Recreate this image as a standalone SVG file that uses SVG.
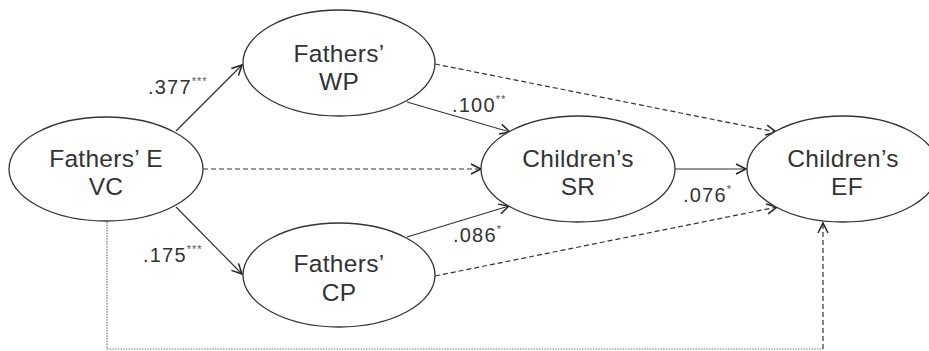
<svg xmlns="http://www.w3.org/2000/svg" width="929" height="351" viewBox="0 0 929 351">
<style>
.node ellipse{fill:#fff;stroke:#333;stroke-width:1.3}
.lbl{font-family:"Liberation Sans",Arial,sans-serif;font-size:24.5px;fill:#333;text-anchor:middle;letter-spacing:0.3px}
.num{font-family:"Liberation Sans",Arial,sans-serif;font-size:20px;fill:#333;letter-spacing:1.2px}
.sup{font-size:11px;letter-spacing:1px;fill:#555}
.c{fill:none;stroke:#333;stroke-width:1.2}
.dash{stroke-dasharray:5,3}
.dot{stroke:#777;stroke-dasharray:1.5,1.2;stroke-width:1.2}
</style>
<defs>
<marker id="ah" markerUnits="userSpaceOnUse" markerWidth="14" markerHeight="14" refX="11" refY="6" orient="auto">
<path d="M1,1 L11,6 L1,11" fill="none" stroke="#222" stroke-width="1.5"/>
</marker>
</defs>
<rect width="929" height="351" fill="#fff"/>
<g id="connectors">
<path class="c" d="M176,131 L242,65" marker-end="url(#ah)"/>
<path class="c" d="M176,207 L242,274" marker-end="url(#ah)"/>
<path class="c dash" d="M203,169 L481,169" marker-end="url(#ah)"/>
<path class="c" d="M407,102 L510,132" marker-end="url(#ah)"/>
<path class="c dash" d="M435,64 L776,132" marker-end="url(#ah)"/>
<path class="c" d="M675,169 L746,169" marker-end="url(#ah)"/>
<path class="c" d="M407,237 L509,206" marker-end="url(#ah)"/>
<path class="c dash" d="M435,276 L777,207" marker-end="url(#ah)"/>
<path class="c dot" d="M107,222 L107,349 L823,349"/>
<path class="c dash" d="M823,349 L823,223" marker-end="url(#ah)"/>
</g>
<g id="labels">
<text class="num" x="148" y="94">.377<tspan class="sup" dy="-9">***</tspan></text>
<text class="num" x="143" y="262">.175<tspan class="sup" dy="-9">***</tspan></text>
<text class="num" x="452" y="112">.100<tspan class="sup" dy="-9">**</tspan></text>
<text class="num" x="453" y="242">.086<tspan class="sup" dy="-9">*</tspan></text>
<text class="num" x="683" y="202">.076<tspan class="sup" dy="-9">*</tspan></text>
</g>
<g id="n-evc" class="node">
<ellipse cx="106" cy="169" rx="97" ry="52"/>
<text class="lbl" x="106" y="167">Fathers’ E</text>
<text class="lbl" x="106" y="195">VC</text>
</g>
<g id="n-wp" class="node">
<ellipse cx="339" cy="63" rx="96" ry="53"/>
<text class="lbl" x="339" y="62">Fathers’</text>
<text class="lbl" x="339" y="90">WP</text>
</g>
<g id="n-cp" class="node">
<ellipse cx="339" cy="275" rx="96" ry="52"/>
<text class="lbl" x="339" y="272">Fathers’</text>
<text class="lbl" x="339" y="301">CP</text>
</g>
<g id="n-sr" class="node">
<ellipse cx="578" cy="169" rx="97" ry="53"/>
<text class="lbl" x="578" y="167">Children’s</text>
<text class="lbl" x="578" y="195">SR</text>
</g>
<g id="n-ef" class="node">
<ellipse cx="843" cy="169" rx="96" ry="53"/>
<text class="lbl" x="843" y="167">Children’s</text>
<text class="lbl" x="847" y="195">EF</text>
</g>
</svg>
